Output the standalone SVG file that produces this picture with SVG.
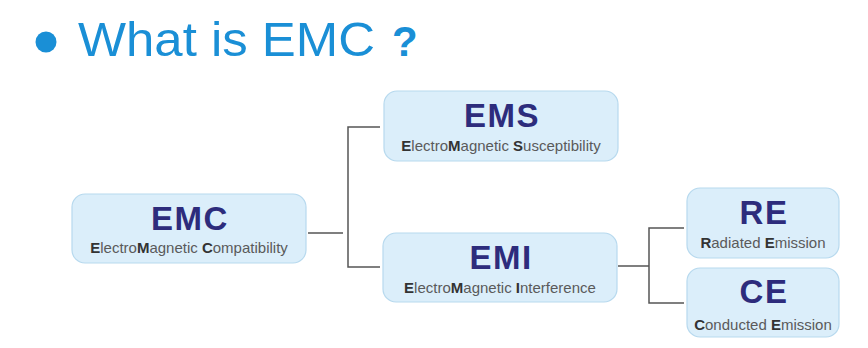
<svg xmlns="http://www.w3.org/2000/svg" width="868" height="348" viewBox="0 0 868 348">
<style>
.box{fill:#dbeefa;stroke:#b7d9ee;stroke-width:1.2}
.main{font-family:"Liberation Sans",Arial,sans-serif;font-weight:bold;font-size:33px;fill:#2d2c7c;text-anchor:middle;letter-spacing:1.5px}
.sub{font-family:"Liberation Sans",Arial,sans-serif;font-size:15px;fill:#5a5a5a;text-anchor:middle}
.sub tspan.b{font-weight:bold;fill:#333}
.conn{fill:none;stroke:#555;stroke-width:1.5}
.title{font-family:"Liberation Sans",Arial,sans-serif;fill:#1a8fd6}
</style>
<rect width="868" height="348" fill="#fff"/>
<g id="title">
<circle cx="46" cy="42" r="10.5" fill="#1a8fd6"/>
<text class="title" x="78" y="56" font-size="49" textLength="297" lengthAdjust="spacingAndGlyphs">What is EMC</text>
<text class="title" x="392" y="56" font-size="42" font-weight="bold">?</text>
</g>
<g id="connectors">
<path class="conn" d="M308 233H343"/>
<path class="conn" d="M380 127H348V267H380"/>
<path class="conn" d="M618 266H649"/>
<path class="conn" d="M684 228H649V303H684"/>
</g>
<g id="emc">
<rect class="box" x="72" y="194" width="234" height="69" rx="13"/>
<text class="main" x="190" y="230">EMC</text>
<text class="sub" x="189" y="253"><tspan class="b">E</tspan>lectro<tspan class="b">M</tspan>agnetic <tspan class="b">C</tspan>ompatibility</text>
</g>
<g id="ems">
<rect class="box" x="384" y="91" width="234" height="70" rx="13"/>
<text class="main" x="502" y="127">EMS</text>
<text class="sub" x="501" y="151"><tspan class="b">E</tspan>lectro<tspan class="b">M</tspan>agnetic <tspan class="b">S</tspan>usceptibility</text>
</g>
<g id="emi">
<rect class="box" x="383" y="233" width="234" height="69" rx="13"/>
<text class="main" x="501" y="269">EMI</text>
<text class="sub" x="500" y="293"><tspan class="b">E</tspan>lectro<tspan class="b">M</tspan>agnetic <tspan class="b">I</tspan>nterference</text>
</g>
<g id="re">
<rect class="box" x="687" y="188" width="152" height="70" rx="13"/>
<text class="main" x="764" y="224">RE</text>
<text class="sub" x="763" y="248"><tspan class="b">R</tspan>adiated <tspan class="b">E</tspan>mission</text>
</g>
<g id="ce">
<rect class="box" x="687" y="268" width="152" height="69" rx="13"/>
<text class="main" x="764" y="303">CE</text>
<text class="sub" x="763" y="330"><tspan class="b">C</tspan>onducted <tspan class="b">E</tspan>mission</text>
</g>
</svg>
